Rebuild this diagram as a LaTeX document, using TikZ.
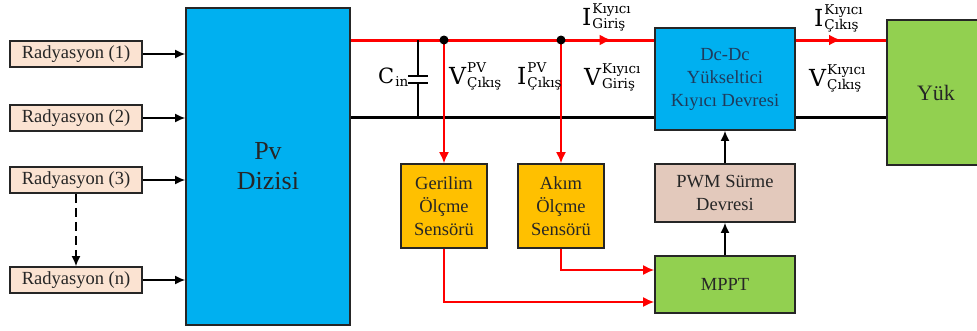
\documentclass[tikz,border=0pt]{standalone}
\usepackage{fontspec}
\setmainfont{Liberation Serif}
\newfontfamily\labfont{DejaVu Serif}
\usetikzlibrary{arrows.meta,calc,decorations.markings}
\definecolor{cy}{HTML}{00B0F0}
\definecolor{gr}{HTML}{92D050}
\definecolor{sens}{HTML}{FFC000}
\definecolor{radfill}{HTML}{FBE3D2}
\definecolor{pwmfill}{HTML}{E3C9BC}
\definecolor{navy}{HTML}{1F3B5C}
\definecolor{busred}{HTML}{FF0000}
\newcommand{\lbl}[3]{#1\kern1pt\begingroup\fontsize{13.5}{13.5}\selectfont
  \setbox0=\hbox{#2}\setbox2=\hbox{#3}%
  \ifdim\wd0>\wd2 \dimen0=\wd0 \else \dimen0=\wd2 \fi
  \hbox to \dimen0{\rlap{\raise11.5pt\box0}\lower3pt\box2\hfil}\endgroup}
\begin{document}
\begin{tikzpicture}[x=1pt,y=-1pt,
  box/.style={draw=black!85, line width=1.8pt, inner sep=2pt, align=center,
    text=black!85, font=\fontsize{18.5}{23}\selectfont},
  rad/.style={box, fill=radfill, minimum width=132pt, minimum height=26pt},
  arr/.style={-{Latex[length=10pt,width=9pt]}, line width=1.4pt},
  rarr/.style={busred, line width=1.5pt, -{Latex[length=11pt,width=10pt]}},
  bus/.style={line width=3pt},
  lab/.style={inner sep=0pt, anchor=base west, font=\labfont\fontsize{23.5}{23.5}\selectfont}]
\useasboundingbox (0,0) rectangle (977,330);

% coordinates for bus levels
\coordinate (y40) at (0,40);
\coordinate (y117) at (0,117);

% nodes
\node[rad] (r1) at (76,54) {Radyasyon (1)};
\node[rad] (r2) at (76,118) {Radyasyon (2)};
\node[rad] (r3) at (76,180) {Radyasyon (3)};
\node[rad] (rn) at (76,280) {Radyasyon (n)};
\node[box, fill=cy, minimum width=164pt, minimum height=317pt,
  font=\fontsize{26}{30}\selectfont] (pv) at (268,166.5) {Pv\\Dizisi};
\node[box, fill=cy, minimum width=140pt, minimum height=102pt, text=navy] (dc) at (725,79)
  {Dc-Dc\\Yükseltici\\Kıyıcı Devresi};
\node[box, fill=gr, minimum width=98pt, minimum height=145pt,
  font=\fontsize{22}{26}\selectfont] (yuk) at (936,92.5) {Yük};
\node[box, fill=sens, minimum width=86pt, minimum height=84pt] (ger) at (444,206)
  {Gerilim\\Ölçme\\Sensörü};
\node[box, fill=sens, minimum width=86pt, minimum height=84pt] (akim) at (561,206)
  {Akım\\Ölçme\\Sensörü};
\node[box, fill=pwmfill, minimum width=140pt, minimum height=58pt] (pwm) at (725,193)
  {PWM Sürme\\Devresi};
\node[box, fill=gr, minimum width=140pt, minimum height=57pt] (mppt) at (725,284.5) {MPPT};

% radiation arrows
\draw[arr] (r1.east) -- (pv.west |- r1.east);
\draw[arr] (r2.east) -- (pv.west |- r2.east);
\draw[arr] (r3.east) -- (pv.west |- r3.east);
\draw[arr] (rn.east) -- (pv.west |- rn.east);
\draw[arr, dash pattern=on 9pt off 5pt] (r3.south) -- (rn.north);

% buses
\draw[bus, busred, postaction={decorate}, decoration={markings,
  mark=at position 0.86 with {\arrow{Latex[length=12pt,width=11pt]}}}]
  (pv.east |- y40) -- (dc.west |- y40);
\draw[bus, busred, postaction={decorate}, decoration={markings,
  mark=at position 0.5 with {\arrow{Latex[length=12pt,width=11pt]}}}]
  (dc.east |- y40) -- (yuk.west |- y40);
\draw[bus] (pv.east |- y117) -- (dc.west |- y117);
\draw[bus] (dc.east |- y117) -- (yuk.west |- y117);

% capacitor
\coordinate (ct) at (418,40);
\coordinate (cb) at (418,117);
\coordinate (cp1) at (418,76);
\coordinate (cp2) at (418,83);
\draw[line width=1.5pt] (ct) -- (cp1);
\draw[line width=1.5pt] (cp2) -- (cb);
\draw[line width=2pt] ([xshift=-10pt]cp1) -- ([xshift=10pt]cp1);
\draw[line width=2pt] ([xshift=-10pt]cp2) -- ([xshift=10pt]cp2);

% measurement taps
\coordinate (d1) at (444,40);
\coordinate (d2) at (561,40);
\draw[rarr] (d1) -- (ger.north);
\draw[rarr] (d2) -- (akim.north);
\fill (d1) circle (4.5pt);
\fill (d2) circle (4.5pt);
\draw[rarr] (akim.south) |- ($(mppt.west)+(0,-14.5)$);
\draw[rarr] (ger.south) |- ($(mppt.west)+(0,17.5)$);

% control arrows
\draw[arr] (mppt.north) -- (pwm.south);
\draw[arr] (pwm.north) -- (dc.south);

% labels
\node[lab, font=\labfont\fontsize{21}{21}\selectfont] (lcin) at (378,83) {\lbl{C}{}{in}};
\node[lab] (lv1) at (449,84) {\lbl{V}{PV}{Çıkış}};
\node[lab] (li1) at (517,84) {\lbl{I}{PV}{Çıkış}};
\node[lab] (lv2) at (584,85) {\lbl{V}{Kıyıcı}{Giriş}};
\node[lab] (li2) at (582,25) {\lbl{I}{Kıyıcı}{Giriş}};
\node[lab] (li3) at (814,26) {\lbl{I}{Kıyıcı}{Çıkış}};
\node[lab] (lv3) at (809,86) {\lbl{V}{Kıyıcı}{Çıkış}};
\end{tikzpicture}
\end{document}
